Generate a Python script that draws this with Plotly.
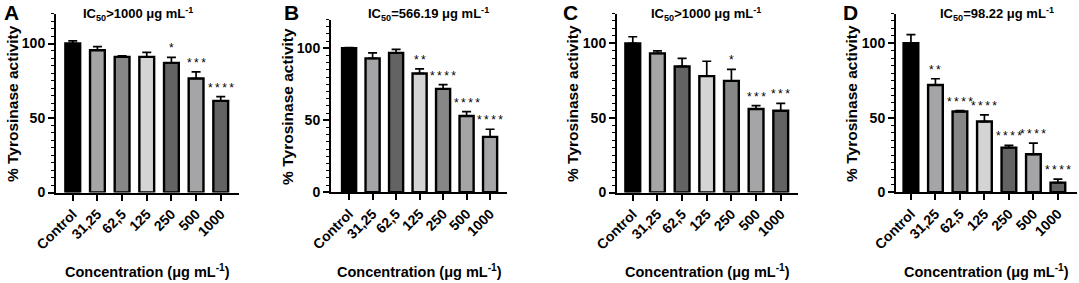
import plotly.graph_objects as go

# ---------------- data ----------------
categories = ["Control", "31,25", "62,5", "125", "250", "500", "1000"]

A_mean = [100, 95.5, 91, 91, 87, 76.5, 61.5]
A_sd = [1.8, 2.4, 0.7, 3.0, 3.7, 4.4, 2.9]
A_sig = ["", "", "", "", "*", "***", "****"]

B_mean = [100, 93, 96.8, 82.5, 71.8, 53, 38.5]
B_sd = [0.5, 3.8, 2.4, 3.2, 3.0, 3.0, 5.3]
B_sig = ["", "", "", "**", "****", "****", "****"]

C_mean = [100, 93.3, 84.5, 78, 74.8, 56, 54.8]
C_sd = [4.4, 1.6, 5.4, 10.0, 7.8, 2.2, 5.0]
C_sig = ["", "", "", "", "*", "***", "***"]

D_mean = [100, 72, 54.2, 47.5, 30, 25.5, 6.5]
D_sd = [5.8, 4.2, 0.7, 4.5, 1.5, 7.5, 2.4]
D_sig = ["", "**", "****", "****", "****", "****", "****"]

panel_letters = ["A", "B", "C", "D"]
ic50_labels = [
    "IC<sub>50</sub>>1000 μg mL<sup>-1</sup>",
    "IC<sub>50</sub>=566.19 μg mL<sup>-1</sup>",
    "IC<sub>50</sub>>1000 μg mL<sup>-1</sup>",
    "IC<sub>50</sub>=98.22 μg mL<sup>-1</sup>",
]
y_title = "% Tyrosinase activity"
x_title = "Concentration (μg mL<sup>-1</sup>)"
y_ticks = [0, 50, 100]

# ---------------- styling ----------------
W, H = 1079, 283
BLACK = "#000000"
LIGHT = "#d4d4d4"
MIDL = "#a5a5a8"
MID = "#878787"
DARK = "#636363"
colors = [
    [BLACK, MIDL, MID, LIGHT, DARK, MIDL, DARK],
    [BLACK, MIDL, DARK, LIGHT, MID, MIDL, MIDL],
    [BLACK, MIDL, DARK, LIGHT, MID, MIDL, DARK],
    [BLACK, MIDL, MID, LIGHT, DARK, MIDL, DARK],
]
FONT = "Liberation Sans, Arial, sans-serif"

# pixel geometry per panel: x-domain (px), x range pads, y0 px, y120 px
panels = [
    dict(xd=(56, 238.5), pl=0.68, pr=0.72, y0=192.5, yt=13.7, tx=138, lx=2, ytx=12),
    dict(xd=(331, 507), pl=0.77, pr=0.72, y0=192.3, yt=19.5, tx=428, lx=282, ytx=288),
    dict(xd=(617, 798), pl=0.64, pr=0.70, y0=192.5, yt=13.5, tx=706, lx=561, ytx=573),
    dict(xd=(896, 1077), pl=0.61, pr=0.78, y0=192.3, yt=13.5, tx=997, lx=841, ytx=852),
]

means = [A_mean, B_mean, C_mean, D_mean]
sds = [A_sd, B_sd, C_sd, D_sd]
sigs = [A_sig, B_sig, C_sig, D_sig]

fig = go.Figure()
annotations = []
layout = {}

for i, p in enumerate(panels):
    n = "" if i == 0 else str(i + 1)
    xa, ya = "x" + n, "y" + n
    fig.add_trace(go.Bar(
        x=list(range(len(categories))), y=means[i],
        xaxis=xa, yaxis=ya,
        width=0.6,
        marker=dict(color=colors[i], line=dict(color="black", width=2.4)),
        error_y=dict(type="data", symmetric=False, array=sds[i],
                     arrayminus=[0] * len(categories),
                     color="black", thickness=1.7, width=4.5),
        showlegend=False,
    ))
    layout["xaxis" + n] = dict(
        domain=[p["xd"][0] / W, p["xd"][1] / W],
        range=[-p["pl"], len(categories) - 1 + p["pr"]],
        anchor=ya, automargin=False,
        tickmode="array", tickvals=list(range(len(categories))), ticktext=categories,
        tickangle=-45,
        ticks="outside", ticklen=6, tickwidth=1.6, tickcolor="black",
        showline=True, linecolor="black", linewidth=2,
        showgrid=False, zeroline=False,
        tickfont=dict(family=FONT, size=14, color="black", weight="bold"),
        fixedrange=True,
    )
    layout["yaxis" + n] = dict(
        domain=[1 - p["y0"] / H, 1 - p["yt"] / H],
        range=[0, 120],
        anchor=xa, automargin=False,
        tickmode="array", tickvals=y_ticks,
        ticks="outside", ticklen=6, tickwidth=1.6, tickcolor="black",
        minor=dict(dtick=5, tick0=0, ticks="outside", ticklen=3, tickwidth=1.4,
                   tickcolor="black", showgrid=False),
        showline=True, linecolor="black", linewidth=2,
        showgrid=False, zeroline=False,
        tickfont=dict(family=FONT, size=14, color="black", weight="bold"),
        fixedrange=True,
    )
    # significance stars
    for j, s in enumerate(sigs[i]):
        if s:
            annotations.append(dict(
                x=j, y=means[i][j] + sds[i][j], xref=xa, yref=ya,
                text="\u2009".join(s), showarrow=False,
                xanchor="center", yanchor="bottom", yshift=0,
                font=dict(family=FONT, size=12, color="black"),
            ))
    # IC50 title
    annotations.append(dict(
        x=p["tx"] / W, y=1 - 14 / H, xref="paper", yref="paper",
        text="<b>" + ic50_labels[i] + "</b>", showarrow=False,
        xanchor="center", yanchor="middle",
        font=dict(family=FONT, size=13, color="black"),
    ))
    # panel letter
    annotations.append(dict(
        x=p["lx"] / W, y=1 - 13 / H, xref="paper", yref="paper",
        text="<b>" + panel_letters[i] + "</b>", showarrow=False,
        xanchor="left", yanchor="middle",
        font=dict(family=FONT, size=21, color="black"),
    ))
    # y title
    annotations.append(dict(
        x=p["ytx"] / W, y=1 - ((p["y0"] + p["yt"]) / 2 + 1) / H, xref="paper", yref="paper",
        text="<b>" + y_title + "</b>", showarrow=False, textangle=-90,
        xanchor="center", yanchor="middle",
        font=dict(family=FONT, size=15.5, color="black"),
    ))
    # x title
    annotations.append(dict(
        x=(p["xd"][0] + p["xd"][1]) / 2 / W, y=1 - 271 / H, xref="paper", yref="paper",
        text="<b>" + x_title + "</b>", showarrow=False,
        xanchor="center", yanchor="middle",
        font=dict(family=FONT, size=14.5, color="black"),
    ))

fig.update_layout(
    width=W, height=H,
    margin=dict(l=0, r=0, t=0, b=0),
    paper_bgcolor="white", plot_bgcolor="white",
    annotations=annotations,
    bargap=0.4,
    **layout,
)
fig.write_html(
    "out.html",
    config={"displayModeBar": False},
    post_script="document.body.style.margin='0';document.body.style.overflow='hidden';",
)
